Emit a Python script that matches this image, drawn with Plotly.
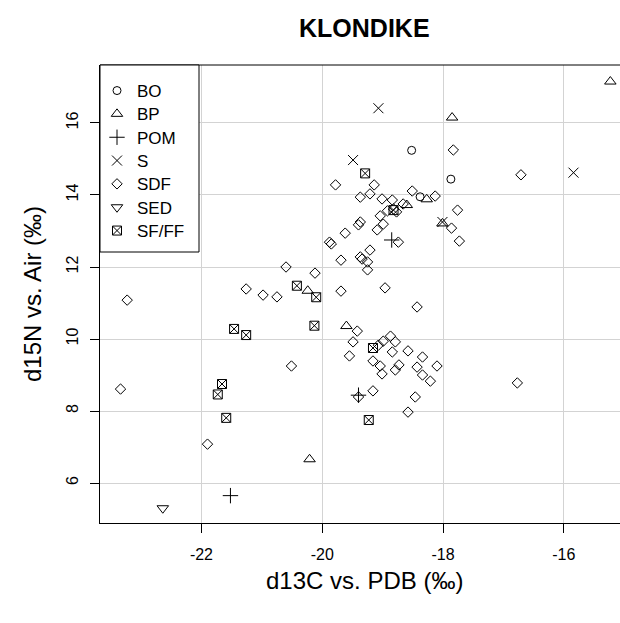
import plotly.graph_objects as go

# ---- data ----
bo_x = [-18.52, -17.87, -18.38]
bo_y = [15.24, 14.44, 13.95]

bp_x = [-15.23, -17.85, -18.27, -18.60, -18.01, -20.24, -19.60, -20.21]
bp_y = [17.15, 16.15, 13.88, 13.72, 13.21, 11.34, 10.36, 6.66]

pom_x = [-21.52, -18.85, -19.40]
pom_y = [5.65, 12.75, 8.44]

s_x = [-19.07, -19.49, -15.84, -18.01]
s_y = [16.41, 14.97, 14.62, 13.25]

sdf_x = [
    -23.23, -23.34, -21.90, -20.60, -21.26, -20.98, -20.75, -20.51, -16.71, -16.77,
    -17.83, -19.78, -19.14, -19.37, -19.21, -19.01, -18.84, -18.51, -18.13, -17.76,
    -17.86, -17.73, -19.04, -18.92, -18.82, -18.77, -18.66, -18.99, -19.09, -19.62,
    -19.37, -19.40, -19.88, -19.85, -19.21, -18.74, -19.69, -19.37, -19.34, -19.25,
    -19.25, -18.96, -20.12, -19.69, -18.43,
    -19.42, -19.49, -19.55, -19.07, -18.99, -18.87, -18.79, -18.84, -19.16, -19.04,
    -19.01, -18.79, -18.73, -18.58, -18.34, -18.43, -18.34, -18.21, -18.10, -18.46,
    -18.58, -19.16, -19.40,
]
sdf_y = [
    11.08, 8.61, 7.08, 12.00, 11.39, 11.22, 11.17, 9.25, 14.56, 8.78,
    15.25, 14.28, 14.28, 13.94, 14.03, 13.89, 13.86, 14.11, 13.97, 13.58,
    13.08, 12.72, 13.42, 13.56, 13.61, 13.53, 13.75, 13.19, 13.03, 12.94,
    13.25, 13.17, 12.69, 12.64, 12.47, 12.69, 12.19, 12.28, 12.22, 12.14,
    11.92, 11.42, 11.83, 11.33, 10.89,
    10.22, 9.92, 9.53, 9.83, 9.94, 10.08, 9.92, 9.64, 9.39, 9.25,
    9.03, 9.14, 9.28, 9.67, 9.50, 9.22, 9.00, 8.83, 9.25, 8.39,
    7.97, 8.56, 8.39,
]

sed_x = [-22.64]
sed_y = [5.30]

sfff_x = [-19.29, -20.42, -20.10, -20.13, -21.46, -21.26, -21.66, -21.73, -21.59, -19.23, -18.82, -19.16]
sfff_y = [14.60, 11.48, 11.16, 10.37, 10.28, 10.11, 8.75, 8.46, 7.81, 7.75, 13.58, 9.75]

groups = ["BO", "BP", "POM", "S", "SDF", "SED", "SF/FF"]
xs = [bo_x, bp_x, pom_x, s_x, sdf_x, sed_x, sfff_x]
ys = [bo_y, bp_y, pom_y, s_y, sdf_y, sed_y, sfff_y]
symbols = ["circle-open", "triangle-up-open", "cross-thin-open", "x-thin-open",
           "diamond-open", "triangle-down-open", "square-x-open"]
sizes = [8, 10, 11, 10, 8, 10, 9]

x_ticks = [-22, -20, -18, -16]
y_ticks = [6, 8, 10, 12, 14, 16]

FONT = "Liberation Sans, Arial, sans-serif"

# plot area geometry (pixels)
W, H = 620, 623
ML, MT, MB = 100, 65, 100
PW, PH = W - ML, H - MT - MB

def py(pix):
    """pixel row -> paper y"""
    return (H - MB - pix) / PH

def px(pix):
    return (pix - ML) / PW

legend_rows = [91, 114.3, 137.7, 161, 184.3, 207.7, 231]

fig = go.Figure()
layout_legends = {}
for i, (g, x, y, sym, sz) in enumerate(zip(groups, xs, ys, symbols, sizes)):
    lname = "legend" if i == 0 else f"legend{i + 1}"
    fig.add_trace(go.Scatter(
        x=x, y=y, mode="markers", name=g, legend=lname,
        marker=dict(symbol=sym, size=sz, color="black",
                    line=dict(color="black", width=1)),
    ))
    layout_legends[lname] = dict(
        x=px(97), y=py(legend_rows[i]), xanchor="left", yanchor="middle",
        bgcolor="rgba(0,0,0,0)", borderwidth=0,
        font=dict(size=17, family=FONT, color="black"), itemsizing="trace",
    )

fig.update_layout(
    width=W, height=H,
    margin=dict(l=ML, r=0, t=MT, b=MB),
    paper_bgcolor="white", plot_bgcolor="white",
    font=dict(family=FONT, size=16, color="black"),
    showlegend=True,
    xaxis=dict(range=[-23.68, -15.07], tickvals=x_ticks,
               ticktext=[str(v) for v in x_ticks],
               showgrid=True, gridcolor="#d3d3d3", gridwidth=1,
               zeroline=False, showline=True, linecolor="black", linewidth=1,
               ticks="outside", ticklen=9, tickcolor="black",
               ticklabelstandoff=8,
               tickfont=dict(size=16, family=FONT)),
    yaxis=dict(range=[4.89, 17.61], tickvals=y_ticks,
               ticktext=[str(v) for v in y_ticks],
               showgrid=True, gridcolor="#d3d3d3", gridwidth=1,
               zeroline=False, showline=True, linecolor="black", linewidth=1,
               ticks="outside", ticklen=9, tickcolor="black",
               tickangle=-90, ticklabelstandoff=6,
               tickfont=dict(size=16, family=FONT)),
    shapes=[
        dict(type="line", xref="paper", yref="paper", x0=0, x1=1, y0=1, y1=1,
             line=dict(color="black", width=1)),
        # legend box
        dict(type="rect", xref="paper", yref="paper", layer="above",
             x0=0, x1=px(199), y0=py(252), y1=1,
             fillcolor="white", line=dict(color="black", width=1)),
    ],
    annotations=[
        dict(text="<b>KLONDIKE</b>", xref="paper", yref="paper",
             x=0.508, y=py(28), xanchor="center", yanchor="middle",
             showarrow=False, font=dict(size=25, family=FONT)),
        dict(text="d13C vs. PDB (‰)", xref="paper", yref="paper",
             x=0.508, y=py(580), xanchor="center", yanchor="middle",
             showarrow=False, font=dict(size=24, family=FONT)),
        dict(text="d15N vs. Air (‰)", xref="paper", yref="paper",
             x=px(32), y=0.5, xanchor="center", yanchor="middle",
             textangle=-90, showarrow=False, font=dict(size=24, family=FONT)),
    ],
    **layout_legends,
)

fig.write_html("out.html")
